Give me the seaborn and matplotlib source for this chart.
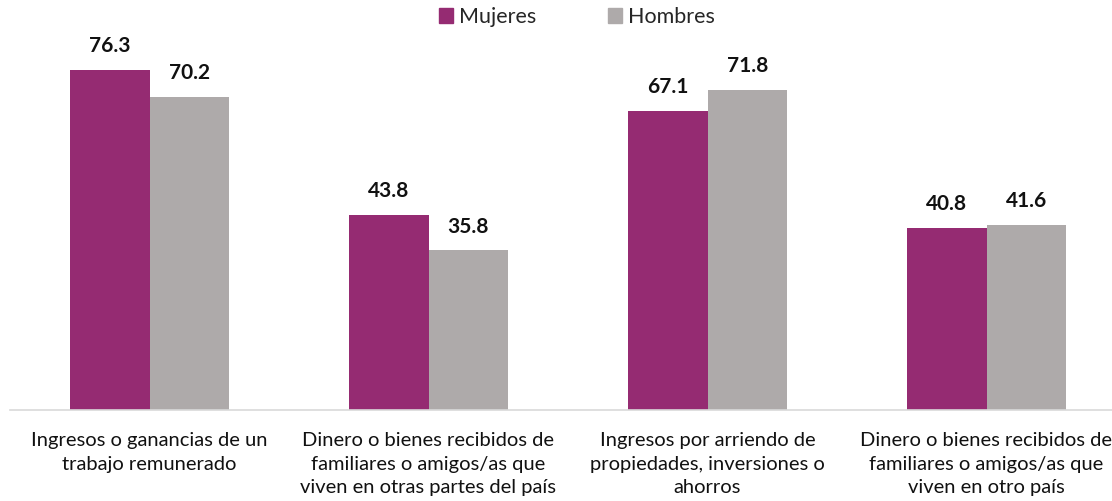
import seaborn as sns
import pandas as pd
import matplotlib.pyplot as plt
from matplotlib.patches import Patch

categories = [
    "Ingresos o ganancias de un\ntrabajo remunerado",
    "Dinero o bienes recibidos de\nfamiliares o amigos/as que\nviven en otras partes del país",
    "Ingresos por arriendo de\npropiedades, inversiones o\nahorros",
    "Dinero o bienes recibidos de\nfamiliares o amigos/as que\nviven en otro país",
]
mujeres = [76.3, 43.8, 67.1, 40.8]
hombres = [70.2, 35.8, 71.8, 41.6]
series = ["Mujeres", "Hombres"]
colors = ["#952B72", "#AEAAAA"]

df = pd.DataFrame({
    "categoria": categories * 2,
    "serie": ["Mujeres"] * 4 + ["Hombres"] * 4,
    "valor": mujeres + hombres,
})

sns.set_style("white")
plt.rcParams['font.family'] = ['Lato', 'DejaVu Sans']

fig = plt.figure(figsize=(11.12, 5.01), dpi=100)
ax = fig.add_axes([10 / 1112, 91 / 501, 1116 / 1112, 410 / 501])

sns.barplot(df, x="categoria", y="valor", hue="serie", palette=colors,
            width=0.573, gap=0, saturation=1, linewidth=0, ax=ax, legend=False)

for cont in ax.containers:
    ax.bar_label(cont, fmt="%.1f", padding=10, fontsize=15, fontweight="bold", color="#111111")

ax.set_ylim(0, 92)
ax.set_xlim(-0.5, 3.5)
ax.set_xlabel("")
ax.set_ylabel("")
ax.set_yticks([])
for s in ["top", "right", "left"]:
    ax.spines[s].set_visible(False)
ax.spines["bottom"].set_color("#D9D9D9")
ax.spines["bottom"].set_linewidth(1.2)
ax.tick_params(axis="x", length=0, pad=16, labelsize=14.5, labelcolor="#111111")
for lbl in ax.get_xticklabels():
    lbl.set_linespacing(1.45)

handles = [Patch(color=c, label=s) for c, s in zip(colors, series)]
fig.legend(handles=handles, loc="center", bbox_to_anchor=(577 / 1112, 1 - 17 / 501),
           ncol=2, frameon=False, fontsize=15.5, handlelength=0.65, handleheight=0.65,
           handletextpad=0.3, columnspacing=3.3)

fig.savefig("out.png", dpi=100)
